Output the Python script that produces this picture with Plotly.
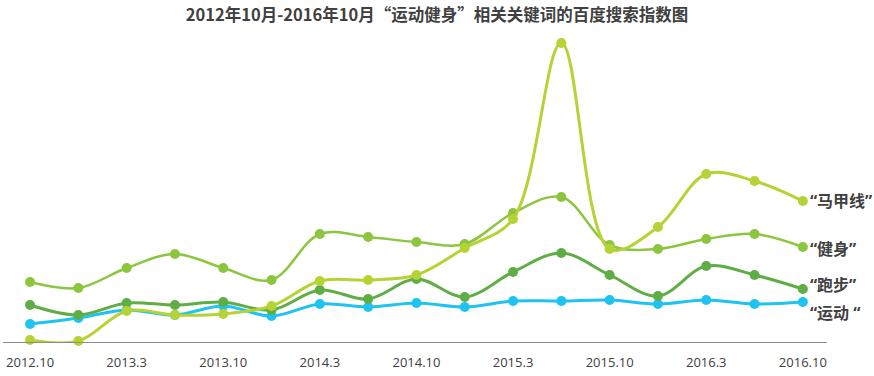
import plotly.graph_objects as go

periods = ["2012.10", "2013.1", "2013.3", "2013.6", "2013.10", "2014.1", "2014.3", "2014.6",
           "2014.10", "2015.1", "2015.3", "2015.6", "2015.10", "2016.1", "2016.3", "2016.6", "2016.10"]
tick_labels = periods[::2]

jianshen = [60, 54, 74, 88, 74, 62, 108, 105, 100, 98, 129, 145, 97, 93, 103, 108, 95]
paobu = [37, 27, 39, 37, 40, 32, 52, 43, 63, 45, 70, 89, 67, 46, 76, 67, 53]
yundong = [18, 24, 32, 27, 36, 26, 38, 35, 39, 35, 41, 41, 42, 38, 42, 38, 40]
majiaxian = [2, 1, 31, 27, 28, 36, 61, 62, 67, 94, 123, 299, 93, 115, 168, 161, 141]

series = [
    ("“运动 “", yundong, "#1ec3f2", 3, -11),
    ("“跑步”", paobu, "#5fad45", 3, 4),
    ("“健身”", jianshen, "#8cc63f", 2.5, -2),
    ("“马甲线”", majiaxian, "#b5d334", 3, 0),
]

label_font = "Open Sans, Noto Sans CJK SC, sans-serif"

fig = go.Figure()
last = len(periods) - 1
for name, vals, color, w, shift in series:
    fig.add_trace(go.Scatter(
        x=periods, y=vals, mode="lines+markers", name=name,
        line=dict(color=color, width=w, shape="spline", smoothing=1),
        marker=dict(color=color, size=10),
        cliponaxis=False,
    ))
    fig.add_annotation(
        x=last, y=vals[-1], xref="x", yref="y", text="<b>" + name + "</b>",
        showarrow=False, xanchor="left", yanchor="middle", xshift=5, yshift=shift,
        font=dict(family=label_font, size=16, color="#404040"),
    )

fig.update_layout(
    width=874, height=376,
    margin=dict(l=3, r=47, t=35, b=34),
    paper_bgcolor="white", plot_bgcolor="white",
    showlegend=False,
    title=dict(text="<b>2012年10月-2016年10月“运动健身”相关关键词的百度搜索指数图</b>",
               x=0.5, xref="container", xanchor="center", y=0.96, yanchor="middle",
               font=dict(family="Noto Sans CJK SC", size=16.5, color="#404040")),
    xaxis=dict(type="category", categoryorder="array", categoryarray=periods,
               range=[-0.56, 16.5], showgrid=False, zeroline=False,
               showline=True, linecolor="#8c8c8c", linewidth=1,
               tickmode="array", tickvals=tick_labels, ticktext=tick_labels,
               ticks="", ticklabelstandoff=8,
               tickfont=dict(family="Open Sans", size=13, color="#404040")),
    yaxis=dict(range=[0, 307], visible=False, showgrid=False, zeroline=False),
)

fig.write_html("out.html", config={"displayModeBar": False},
               post_script="document.body.style.margin='0';")
